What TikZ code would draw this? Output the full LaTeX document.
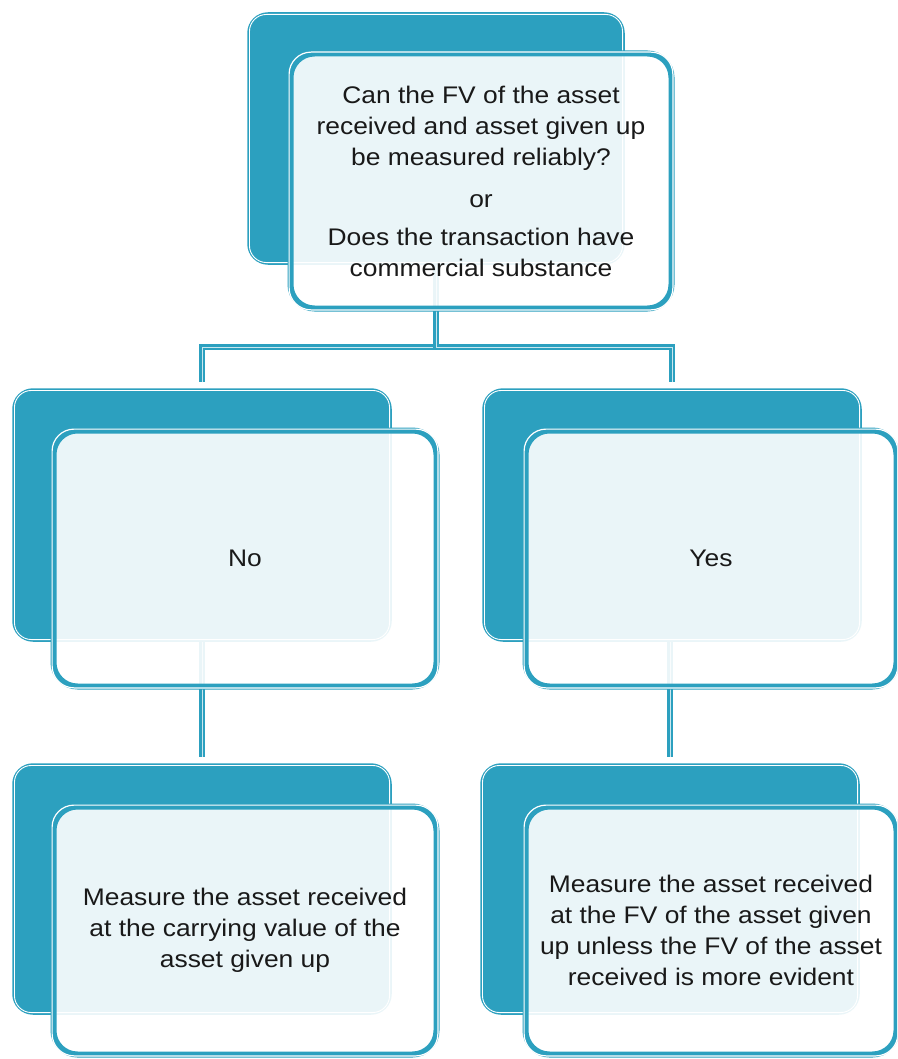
\documentclass[tikz,border=0pt]{standalone}
\usepackage{fontspec}
\setmainfont[FakeStretch=1.1]{Liberation Sans}
\definecolor{tealc}{RGB}{44,160,191}
\definecolor{inkc}{RGB}{25,25,25}
\begin{document}
\begin{tikzpicture}[x=1pt,y=-1pt,
  backbox/.style={draw=tealc, fill=tealc, line width=1.5pt, rounded corners=20pt, inner sep=0pt},
  frontbox/.style={draw=tealc, line width=6pt, fill=white, fill opacity=0.9, draw opacity=1, text opacity=1,
     rounded corners=24pt, inner sep=0pt, align=center, text=inkc,
     font=\fontsize{24}{31}\selectfont},
  inline/.style={draw=white, line width=1.2pt},
  conn/.style={draw=tealc, line width=2.2pt, double=white!75!tealc, double distance=1pt, shorten >=6pt}
]
\useasboundingbox (0,0) rectangle (897,1059);
\clip (0,0) rectangle (897,1059);

% back boxes
\node[backbox, minimum width=376pt, minimum height=251pt] (tb) at (436,138.5) {};
\node[backbox, minimum width=378pt, minimum height=252pt] (lb) at (202,515) {};
\node[backbox, minimum width=378pt, minimum height=252pt] (rb) at (672,515) {};
\node[backbox, minimum width=378pt, minimum height=250pt] (blb) at (202,889) {};
\node[backbox, minimum width=378pt, minimum height=250pt] (brb) at (670,889) {};
\foreach \n in {tb,lb,rb,blb,brb}{
  \draw[inline, line width=0.9pt, rounded corners=17pt] ([shift={(2.2,2.2)}]\n.north west) rectangle ([shift={(-2.2,-2.2)}]\n.south east);
}

% connectors
\coordinate (split) at (436,347);
\draw[conn] (tb.south) -- (split) -| (lb.north);
\draw[conn] (tb.south) -- (split) -| (rb.north);
\draw[conn] (lb.south) -- (blb.north);
\draw[conn] (brb.north |- rb.south) -- (brb.north);

% front boxes
\node[frontbox, minimum width=381pt, minimum height=255pt] (tf) at (481,181)
  {Can the FV of the asset\\received and asset given up\\be measured reliably?\\[11pt]or\\[7pt]Does the transaction have\\commercial substance};
\node[frontbox, minimum width=383pt, minimum height=256pt] (lf) at (245,558.5) {No};
\node[frontbox, minimum width=371pt, minimum height=256pt] (rf) at (711,558.5) {Yes};
\node[frontbox, minimum width=383pt, minimum height=248pt] (blf) at (245,930.5)
  {Measure the asset received\\at the carrying value of the\\asset given up};
\node[frontbox, minimum width=371pt, minimum height=248pt] (brf) at (711,930.5)
  {Measure the asset received\\at the FV of the asset given\\up unless the FV of the asset\\received is more evident};
\foreach \n in {tf,lf,rf,blf,brf}{
  \draw[inline, rounded corners=22pt] ([shift={(1.6,1.6)}]\n.north west) rectangle ([shift={(-1.6,-1.6)}]\n.south east);
}
\end{tikzpicture}
\end{document}
